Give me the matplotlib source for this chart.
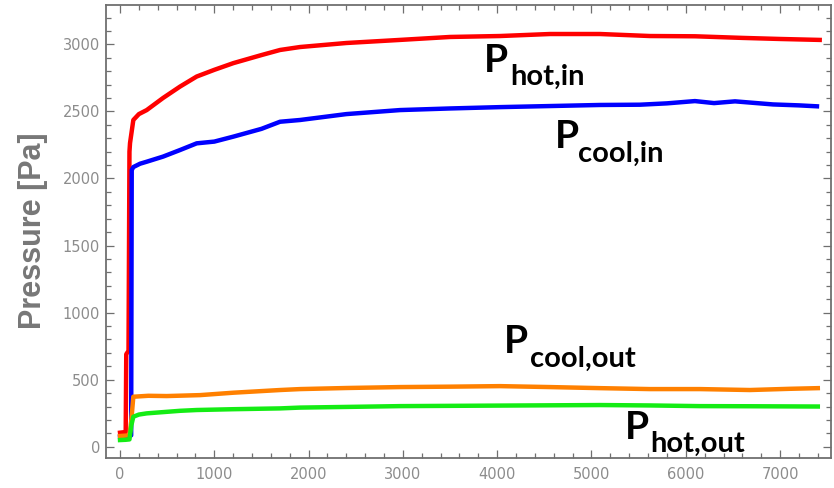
#!/usr/bin/env python3
"""Pressure vs time for the four heat-exchanger ports (Mathematica-style frame)."""

import matplotlib
matplotlib.use("Agg")
import matplotlib.pyplot as plt
from matplotlib.ticker import MultipleLocator

# values
t_hot_in = [0, 60, 66, 90, 100, 106, 141, 200, 283, 456, 636, 813, 1000, 1202, 1500,
            1697, 1909, 2400, 2969, 3500, 4030, 4560, 5090, 5620, 6100, 6600, 7000, 7420]
p_hot_in = [105, 110, 690, 715, 2200, 2264, 2436, 2480, 2510, 2600, 2685, 2760, 2810,
            2860, 2920, 2958, 2980, 3010, 3033, 3055, 3062, 3077, 3077, 3062, 3060,
            3048, 3040, 3033]

t_cool_in = [0, 100, 118, 124, 141, 212, 283, 456, 636, 813, 1000, 1202, 1500, 1697,
             1909, 2400, 2969, 3500, 4030, 4560, 5090, 5514, 5800, 6097, 6300, 6522,
             6925, 7200, 7391]
p_cool_in = [75, 80, 85, 2063, 2085, 2110, 2125, 2163, 2212, 2262, 2275, 2312, 2370,
             2423, 2436, 2480, 2510, 2522, 2532, 2540, 2548, 2550, 2560, 2577, 2562,
             2575, 2552, 2545, 2538]

t_cool_out = [0, 100, 120, 141, 300, 495, 848, 1202, 1697, 1909, 2400, 2969, 3500, 4030,
              4560, 5090, 5620, 6150, 6680, 7100, 7400]
p_cool_out = [80, 85, 200, 373, 380, 378, 385, 403, 423, 430, 438, 445, 448, 452, 445,
              437, 430, 430, 423, 432, 437]

t_hot_out = [0, 60, 100, 120, 141, 200, 283, 450, 636, 813, 1200, 1697, 1909, 2500, 2969,
             3500, 4030, 4560, 5090, 5620, 6150, 6700, 7400]
p_hot_out = [50, 52, 55, 160, 224, 240, 249, 258, 268, 274, 280, 286, 292, 298, 303,
             305, 307, 309, 311, 308, 303, 302, 300]

series = [
    (t_hot_in, p_hot_in, "#ff0000"),
    (t_cool_in, p_cool_in, "#0000ff"),
    (t_cool_out, p_cool_out, "#ff8000"),
    (t_hot_out, p_hot_out, "#14ec14"),
]

# (main letter, subscript, P left px, P baseline px, sub left px, sub baseline px)
labels = [
    ("P", "hot,in", 484, 72, 510, 85),
    ("P", "cool,in", 555, 148, 578, 162),
    ("P", "cool,out", 504, 353, 530, 367),
    ("P", "hot,out", 625, 439, 650, 452),
]

W, H = 834, 488
FRAME = "#6f6f6f"
TICK_TXT = "#8c8c8c"

fig = plt.figure(figsize=(W / 100, H / 100), dpi=100)
ax = fig.add_axes([105.7 / W, 1 - 458.3 / H, (831 - 105.7) / W, (458.3 - 4.5) / H])

for t, p, c in series:
    ax.plot(t, p, color=c, linewidth=3.2, solid_joinstyle="round")

ax.set_xlim(-152, 7540)
ax.set_ylim(-86, 3297)

ax.xaxis.set_major_locator(MultipleLocator(1000))
ax.xaxis.set_minor_locator(MultipleLocator(200))
ax.yaxis.set_major_locator(MultipleLocator(500))
ax.yaxis.set_minor_locator(MultipleLocator(100))

ax.tick_params(which="both", direction="in", top=True, right=True, color=FRAME, width=0.9)
ax.tick_params(which="major", length=6)
ax.tick_params(which="minor", length=3.5)
ax.tick_params(axis="x", which="major", labelsize=10.5, labelcolor=TICK_TXT, pad=6)
ax.tick_params(axis="y", which="major", labelsize=10.5, labelcolor=TICK_TXT, pad=4)

for s in ax.spines.values():
    s.set_color(FRAME)
    s.set_linewidth(1.3)

fig.text(33.5 / W, 1 - 231 / H, "Pressure [Pa]", rotation=90, ha="center", va="center",
         fontsize=22, fontweight="bold", color="#777777", family="Liberation Sans")

for main, sub, px, py, sx, sy in labels:
    fig.text(px / W, 1 - py / H, main, ha="left", va="baseline", fontsize=28,
             fontweight="bold", family="Lato", color="black")
    fig.text(sx / W, 1 - sy / H, sub, ha="left", va="baseline", fontsize=21,
             fontweight="bold", family="Lato", color="black")

fig.savefig("out.png", dpi=100)
